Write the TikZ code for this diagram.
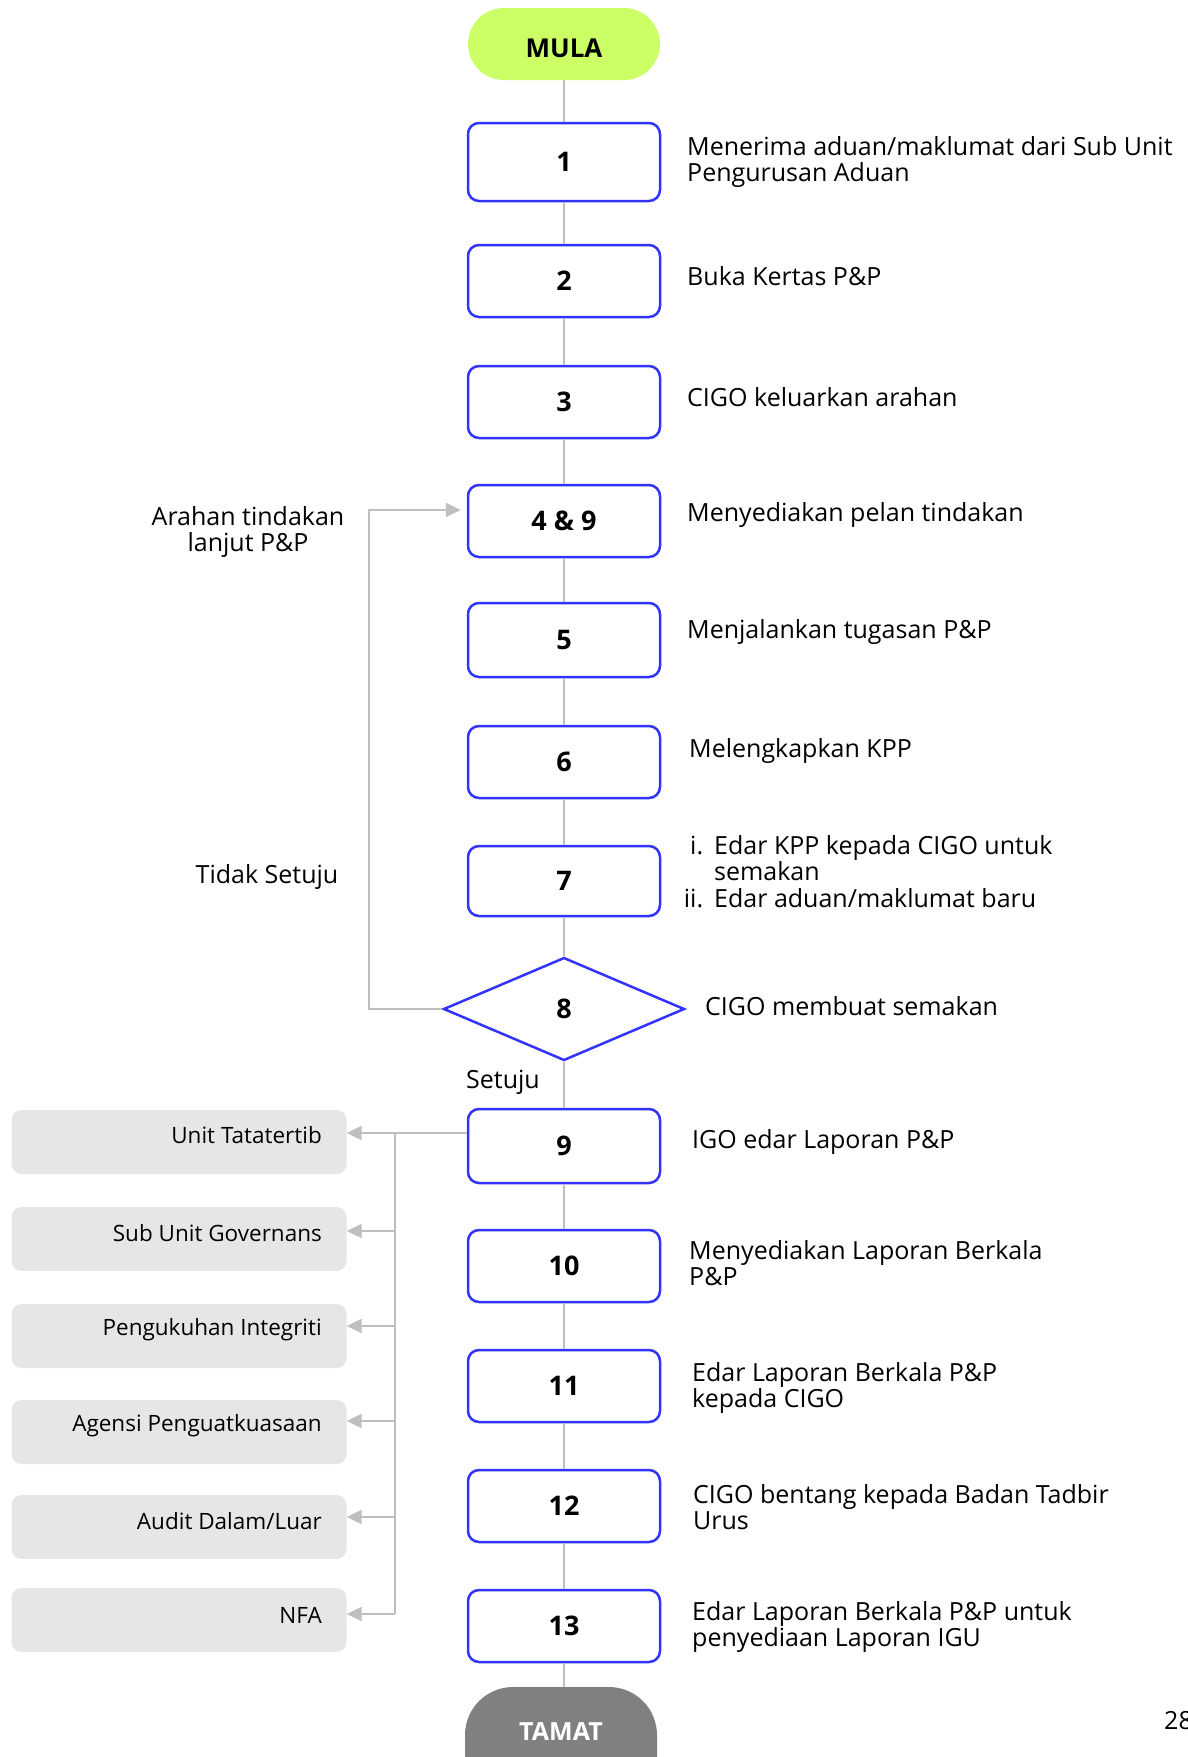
\documentclass[tikz,border=0pt]{standalone}
\usepackage{fontspec}
\setmainfont{Open Sans}
\usetikzlibrary{arrows.meta,shapes.geometric,calc}
\definecolor{blueC}{RGB}{51,51,255}
\definecolor{lineC}{RGB}{191,191,191}
\definecolor{sideC}{RGB}{230,230,230}
\definecolor{limeC}{RGB}{204,255,102}
\definecolor{endC}{RGB}{128,128,128}
\tikzset{
  stepbox/.style={draw=blueC,line width=2.5,rounded corners=11,fill=white,minimum width=192,minimum height=72,inner sep=0,font=\bfseries\fontsize{27}{29}\selectfont},
  desc/.style={anchor=west,align=left,inner sep=0,font=\fontsize{25}{26.5}\selectfont},
  lefttxt/.style={align=center,inner sep=0,font=\fontsize{25}{26.5}\selectfont},
  sidebox/.style={fill=sideC,rounded corners=10,minimum width=335,minimum height=64,inner sep=0},
  sidetxt/.style={anchor=east,inner sep=0,font=\fontsize{22.5}{25}\selectfont},
  conn/.style={draw=lineC,line width=2},
  arr/.style={conn,-{Triangle[length=15,width=14]}},
}
\begin{document}
\begin{tikzpicture}[x=1pt,y=-1pt]
\useasboundingbox (0,0) rectangle (1187,1757);
\clip (0,0) rectangle (1187,1757);
% start / end
\node[fill=limeC,rounded corners=36,minimum width=192,minimum height=72,inner sep=0,
  label={[yshift=-4,font=\bfseries\fontsize{26}{28}\selectfont]center:MULA}] (mula) at (564,44) {};
\node[fill=endC,rounded corners=48,minimum width=192,minimum height=140,inner sep=0,
  label={[yshift=25,text=white,font=\bfseries\fontsize{25}{27}\selectfont]center:TAMAT}] (tamat) at (561,1757) {};
% steps
\node[stepbox,minimum height=78] (b1) at (564,162) {1};
\node[stepbox] (b2) at (564,281) {2};
\node[stepbox] (b3) at (564,402) {3};
\node[stepbox] (b49) at (564,521) {4 \& 9};
\node[stepbox,minimum height=74] (b5) at (564,640) {5};
\node[stepbox] (b6) at (564,762) {6};
\node[stepbox,minimum height=70] (b7) at (564,881) {7};
\node[diamond,draw=blueC,line width=2.5,fill=white,minimum width=241,minimum height=103,inner sep=0,aspect=2.34,font=\bfseries\fontsize{27}{29}\selectfont] (d8) at (564,1009) {8};
\node[stepbox,minimum height=74] (b9) at (564,1146) {9};
\node[stepbox] (b10) at (564,1266) {10};
\node[stepbox] (b11) at (564,1386) {11};
\node[stepbox] (b12) at (564,1506) {12};
\node[stepbox] (b13) at (564,1626) {13};
% vertical connectors
\draw[conn] (mula) -- (b1);
\draw[conn] (b1) -- (b2);
\draw[conn] (b2) -- (b3);
\draw[conn] (b3) -- (b49);
\draw[conn] (b49) -- (b5);
\draw[conn] (b5) -- (b6);
\draw[conn] (b6) -- (b7);
\draw[conn] (b7) -- (d8);
\draw[conn] (d8) -- (b9);
\draw[conn] (b9) -- (b10);
\draw[conn] (b10) -- (b11);
\draw[conn] (b11) -- (b12);
\draw[conn] (b12) -- (b13);
\draw[conn] (b13) -- (tamat.north -| b13);
% feedback loop
\coordinate (fbtop) at (369,510);
\draw[arr,shorten >=6] (d8.west) -| (fbtop) -- (b49.west |- fbtop);
% descriptions
\node[desc] (t1) at (687,162) {Menerima aduan/maklumat dari Sub Unit\\Pengurusan Aduan};
\node[desc] (t2) at (687,276) {Buka Kertas P\&P};
\node[desc] (t3) at (687,397) {CIGO keluarkan arahan};
\node[desc] (t49) at (687,515) {Menyediakan pelan tindakan};
\node[desc] (t5) at (687,632) {Menjalankan tugasan P\&P};
\node[desc] (t6) at (689,751) {Melengkapkan KPP};
\node[desc,anchor=north west] (t7) at (683,835) {\makebox[20pt][r]{i.}\hspace{11pt}Edar KPP kepada CIGO untuk\\\hspace{31pt}semakan\\\makebox[20pt][r]{ii.}\hspace{11pt}Edar aduan/maklumat baru};
\node[desc] (t8) at (705,1006) {CIGO membuat semakan};
\node[desc] (t9) at (692,1142) {IGO edar Laporan P\&P};
\node[desc] (t10) at (689,1263) {Menyediakan Laporan Berkala\\P\&P};
\node[desc] (t11) at (692,1388) {Edar Laporan Berkala P\&P\\kepada CIGO};
\node[desc] (t12) at (693,1507) {CIGO bentang kepada Badan Tadbir\\Urus};
\node[desc] (t13) at (692,1627) {Edar Laporan Berkala P\&P untuk\\penyediaan Laporan IGU};
\node[desc] (pg) at (1164,1721) {28};
% left labels
\node[lefttxt] (la) at (248,532) {Arahan tindakan\\lanjut P\&P};
\node[lefttxt] (lts) at (267,877) {Tidak Setuju};
\node[lefttxt] (ls) at (503,1082) {Setuju};
% side boxes
\node[sidebox] (s1) at (179,1142) {};
\node[sidebox] (s2) at (179,1239) {};
\node[sidebox] (s3) at (179,1336) {};
\node[sidebox] (s4) at (179,1432) {};
\node[sidebox] (s5) at (179,1527) {};
\node[sidebox] (s6) at (179,1620) {};
\node[sidetxt] (st1) at (322,1135) {Unit Tatatertib};
\node[sidetxt] (st2) at (322,1233) {Sub Unit Governans};
\node[sidetxt] (st3) at (322,1330) {Pengukuhan Integriti};
\node[sidetxt] (st4) at (322,1426) {Agensi Penguatkuasaan};
\node[sidetxt] (st5) at (322,1521) {Audit Dalam/Luar};
\node[sidetxt] (st6) at (322,1615) {NFA};
% bus
\coordinate (busTop) at (395,1133);
\coordinate (busBot) at (395,1614);
\draw[conn] (b9.west |- busTop) -- (busTop) -- (busBot);
\draw[arr] (busTop) -- (s1.east |- busTop);
\draw[arr] (busTop |- 0,1231) -- (s2.east |- 0,1231);
\draw[arr] (busTop |- 0,1326) -- (s3.east |- 0,1326);
\draw[arr] (busTop |- 0,1421) -- (s4.east |- 0,1421);
\draw[arr] (busTop |- 0,1517) -- (s5.east |- 0,1517);
\draw[arr] (busBot) -- (s6.east |- busBot);
\end{tikzpicture}
\end{document}
